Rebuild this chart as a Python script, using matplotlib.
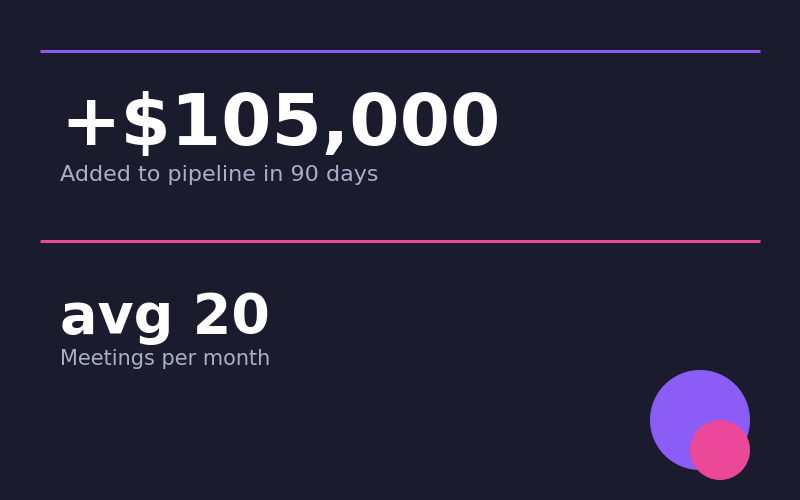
import matplotlib
matplotlib.use("Agg")
import matplotlib.pyplot as plt
from matplotlib.patches import Circle

BG = "#1b1b2e"
headlines = ["+$105,000", "avg 20"]
subtitles = ["Added to pipeline in 90 days", "Meetings per month"]
rule_colors = ["#8b5cf6", "#ec4899"]

fig = plt.figure(figsize=(8, 5), dpi=100, facecolor=BG)
ax = fig.add_axes([0, 0, 1, 1])
ax.set_xlim(0, 800)
ax.set_ylim(500, 0)
ax.set_facecolor(BG)
ax.axis("off")

rule_y = [51, 241]
head_y = [145, 333]
sub_y = [181, 365]
head_size = [52, 40]
sub_size = [16, 15]

for i in range(2):
    ax.plot([40, 760], [rule_y[i]] * 2, color=rule_colors[i], lw=2.2, solid_capstyle="butt")
    ax.text(60, head_y[i], headlines[i], color="white", fontsize=head_size[i],
            fontweight="bold", va="baseline", ha="left")
    ax.text(60, sub_y[i], subtitles[i], color="#a9afc9", fontsize=sub_size[i],
            va="baseline", ha="left")

ax.add_patch(Circle((700, 420), 50, color="#8b5cf6", lw=0))
ax.add_patch(Circle((720, 450), 30, color="#ec4899", lw=0))

fig.savefig("out.png", dpi=100, facecolor=BG)
